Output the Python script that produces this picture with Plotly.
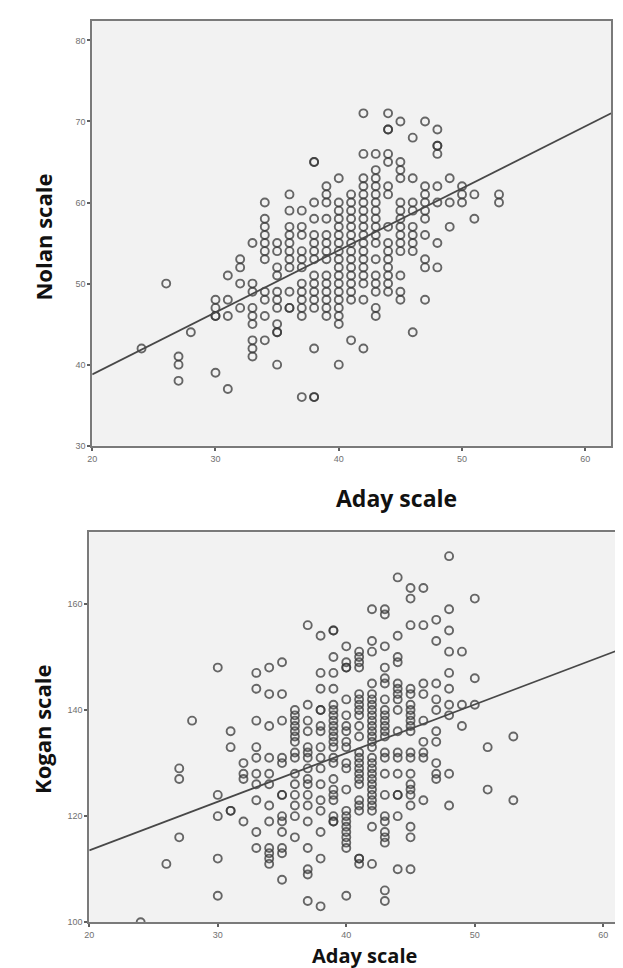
import plotly.graph_objects as go

# ---------------- data ----------------
# Top panel: Aday scale (x) vs Nolan scale (y); one list of Nolan values per Aday value
aday_top = [24, 26, 27, 28, 30, 31, 32, 33, 34, 35, 36, 37, 38, 39, 40,
            41, 42, 43, 44, 45, 46, 47, 48, 49, 50, 51, 53]
nolan_cols = [
    [42],
    [50],
    [41, 40, 38],
    [44],
    [48, 47, 46, 46, 39],
    [51, 48, 46, 37],
    [53, 52, 50, 47],
    [55, 50, 49, 47, 46, 45, 43, 42, 41],
    [60, 58, 57, 56, 55, 54, 53, 49, 48, 46, 43],
    [55, 54, 52, 51, 49, 48, 47, 45, 44, 44, 40],
    [61, 59, 57, 56, 55, 54, 53, 52, 49, 47, 47],
    [59, 57, 56, 54, 53, 52, 50, 49, 48, 47, 46, 36],
    [65, 65, 60, 58, 56, 55, 54, 53, 51, 50, 49, 48, 47, 42, 36, 36],
    [62, 61, 60, 58, 56, 55, 54, 53, 51, 50, 49, 48, 47, 46],
    [63, 60, 59, 58, 57, 56, 55, 54, 53, 52, 51, 50, 49, 48, 47, 46, 45, 40],
    [61, 60, 59, 58, 57, 56, 55, 54, 53, 52, 51, 50, 49, 48, 43],
    [71, 66, 63, 62, 61, 60, 59, 58, 57, 56, 55, 54, 53, 52, 51, 50, 48, 42],
    [66, 64, 63, 62, 61, 60, 59, 58, 57, 56, 55, 53, 51, 50, 49, 47, 46],
    [71, 69, 69, 66, 65, 62, 61, 57, 55, 54, 53, 52, 51, 50, 49],
    [70, 65, 64, 63, 60, 59, 58, 57, 56, 55, 54, 51, 49, 48],
    [68, 63, 60, 59, 57, 56, 55, 54, 44],
    [70, 62, 61, 60, 59, 58, 56, 53, 52, 48],
    [69, 67, 67, 66, 62, 60, 55, 52],
    [63, 60, 57],
    [62, 61, 60],
    [61, 58],
    [61, 60],
]

# Bottom panel: Aday scale (x) vs Kogan scale (y)
aday_bottom = [24, 26, 27, 28, 30, 31, 32, 33, 34, 35, 36, 37, 38, 39, 40,
               41, 42, 43, 44, 45, 46, 47, 48, 49, 50, 51, 53]
kogan_cols = [
    [100],
    [111],
    [129, 127, 116],
    [138],
    [148, 124, 120, 112, 105],
    [136, 133, 121, 121],
    [130, 128, 127, 119],
    [147, 144, 138, 133, 131, 128, 126, 123, 117, 114],
    [148, 143, 137, 131, 128, 126, 122, 119, 114, 113, 112, 111],
    [149, 143, 138, 131, 130, 124, 124, 120, 119, 117, 114, 113, 108],
    [140, 139, 138, 137, 136, 135, 134, 132, 131, 128, 126, 124, 122, 120, 116],
    [156, 141, 138, 136, 133, 132, 131, 129, 127, 126, 124, 122, 119, 114, 110, 109, 104],
    [154, 147, 144, 140, 140, 137, 136, 133, 131, 129, 126, 123, 121, 117, 112, 103],
    [155, 155, 150, 147, 144, 141, 140, 139, 138, 137, 136, 135, 134, 133, 131, 130,
     127, 125, 124, 123, 120, 119, 119],
    [152, 149, 148, 148, 142, 139, 137, 136, 134, 133, 130, 129, 125, 121, 120, 119,
     118, 117, 116, 115, 114, 105],
    [151, 150, 149, 148, 143, 142, 141, 140, 139, 137, 135, 132, 131, 130, 129, 128,
     127, 126, 123, 122, 121, 112, 112, 111],
    [159, 153, 151, 145, 143, 142, 141, 140, 139, 138, 137, 136, 135, 134, 133, 131,
     130, 129, 128, 127, 126, 125, 124, 123, 122, 121, 118, 111],
    [159, 158, 152, 148, 146, 145, 142, 140, 139, 138, 137, 136, 135, 132, 131, 128,
     124, 120, 119, 117, 116, 115, 106, 104],
    [165, 154, 150, 149, 145, 144, 143, 142, 140, 136, 132, 131, 128, 124, 124, 120, 110],
    [163, 161, 156, 144, 143, 141, 140, 139, 138, 137, 136, 132, 131, 128, 126, 125,
     124, 122, 118, 116, 110],
    [163, 156, 145, 143, 138, 134, 132, 131, 123],
    [157, 153, 145, 142, 140, 136, 134, 130, 128, 127],
    [169, 159, 155, 151, 147, 144, 141, 139, 128, 122],
    [151, 141, 137],
    [161, 146, 141],
    [133, 125],
    [135, 123],
]

# Fit lines (intercept, slope)
fit_top = (23.5, 0.765)
fit_bottom = (95.2, 0.917)

x_range_top = [20, 62.1]
y_range_top = [30, 82.4]
x_range_bottom = [20, 62.0]
y_range_bottom = [100, 173.5]

x_ticks = [20, 30, 40, 50, 60]
y_ticks_top = [30, 40, 50, 60, 70, 80]
y_ticks_bottom = [100, 120, 140, 160]

# ---------------- build ----------------
def expand(xs, cols):
    px, py = [], []
    for x, ys in zip(xs, cols):
        for y in ys:
            px.append(x)
            py.append(y)
    return px, py

xt, yt = expand(aday_top, nolan_cols)
xb, yb = expand(aday_bottom, kogan_cols)

W, H = 623, 968
mcol = "rgba(55,55,55,0.75)"
marker = dict(symbol="circle-open", size=8, color=mcol,
              line=dict(width=1.9, color=mcol))

fig = go.Figure()
fig.add_trace(go.Scatter(x=xt, y=yt, mode="markers", marker=marker,
                         xaxis="x", yaxis="y", showlegend=False, cliponaxis=True))
fig.add_trace(go.Scatter(x=xb, y=yb, mode="markers", marker=marker,
                         xaxis="x2", yaxis="y2", showlegend=False, cliponaxis=True))

lx_t = x_range_top
fig.add_trace(go.Scatter(x=lx_t, y=[fit_top[0] + fit_top[1] * v for v in lx_t],
                         mode="lines", line=dict(color="#484848", width=1.8),
                         xaxis="x", yaxis="y", showlegend=False))
lx_b = x_range_bottom
fig.add_trace(go.Scatter(x=lx_b, y=[fit_bottom[0] + fit_bottom[1] * v for v in lx_b],
                         mode="lines", line=dict(color="#484848", width=1.8),
                         xaxis="x2", yaxis="y2", showlegend=False))

tickfont = dict(family="Liberation Sans", size=9, color="#707070")
axis_common = dict(showgrid=False, zeroline=False, showline=True, linewidth=2,
                   linecolor="#7a7a7a", mirror=True, ticks="outside", ticklen=3,
                   tickwidth=1.5, tickcolor="#606060", tickfont=tickfont)

fig.update_layout(
    width=W, height=H,
    margin=dict(l=0, r=0, t=0, b=0),
    paper_bgcolor="white",
    plot_bgcolor="#f2f2f2",
    xaxis=dict(domain=[80 / W, 604 / W], range=x_range_top, tickvals=x_ticks,
               anchor="y", **axis_common),
    yaxis=dict(domain=[(H - 440) / H, (H - 13) / H], range=y_range_top,
               tickvals=y_ticks_top, anchor="x", **axis_common),
    xaxis2=dict(domain=[77 / W, 622 / W], range=x_range_bottom, tickvals=x_ticks,
                anchor="y2", **axis_common),
    yaxis2=dict(domain=[(H - 919) / H, (H - 527) / H], range=y_range_bottom,
                tickvals=y_ticks_bottom, anchor="x2", **axis_common),
)

annotations = [
    dict(text="<b>Nolan scale</b>", x=30 / W, y=(H - 230) / H, textangle=-90,
         size=22, yanchor="middle"),
    dict(text="<b>Aday scale</b>", x=387 / W, y=(H - 493) / H, textangle=0,
         size=23, yanchor="middle"),
    dict(text="<b>Kogan scale</b>", x=30 / W, y=(H - 725) / H, textangle=-90,
         size=22, yanchor="middle"),
    dict(text="<b>Aday scale</b>", x=355 / W, y=0.5 / H, textangle=0,
         size=20, yanchor="bottom"),
]
for a in annotations:
    size = a.pop("size")
    fig.add_annotation(xref="paper", yref="paper", showarrow=False,
                       xanchor="center",
                       font=dict(family="Open Sans", size=size, color="#111111"), **a)

fig.write_html("out.html")
